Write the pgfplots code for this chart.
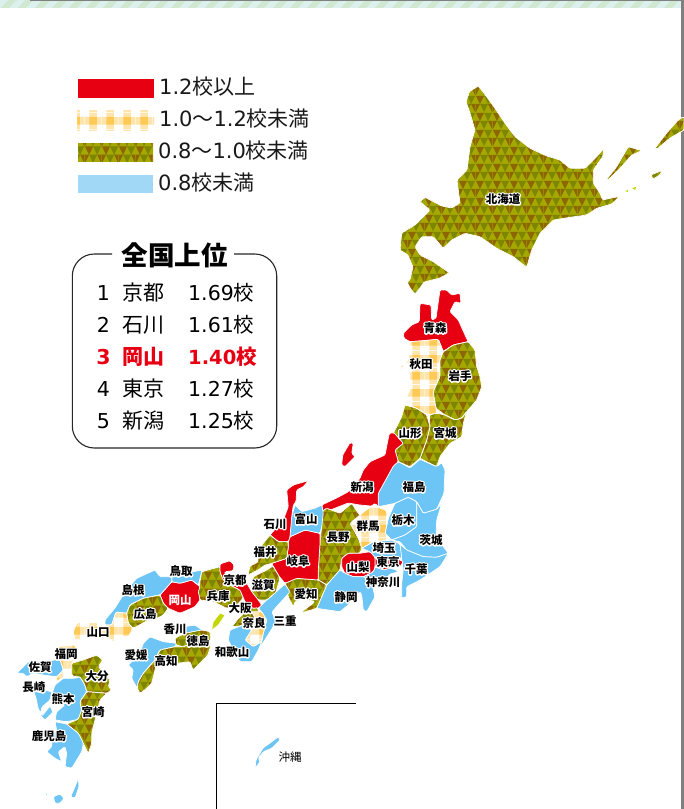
\documentclass[border=0pt]{standalone}
\usepackage{pgfplots}
\pgfplotsset{compat=1.18}
\usepackage{fontspec}
\usetikzlibrary{patterns}
\setmainfont{Noto Sans CJK JP}
\newfontfamily\djv{DejaVu Sans}
\definecolor{jr}{HTML}{E60012}
\definecolor{jb}{HTML}{6CC5F4}
\definecolor{lb}{HTML}{A0D8F6}
\definecolor{ol}{HTML}{A4A800}
\definecolor{od}{HTML}{7E8600}
\definecolor{br}{HTML}{8C6600}
\definecolor{cl}{HTML}{FFE4AC}
\definecolor{cd}{HTML}{FFC956}
\definecolor{aw}{HTML}{C4D600}
\definecolor{s1}{HTML}{CFE8CF}
\definecolor{s2}{HTML}{DCF0EE}
\pgfdeclarepatterninherentlycolored{tri}{\pgfqpoint{0pt}{0pt}}{\pgfqpoint{17pt}{17pt}}{\pgfqpoint{17pt}{17pt}}{%
 \pgfsetfillcolor{ol}\pgfpathrectangle{\pgfqpoint{0pt}{0pt}}{\pgfqpoint{17pt}{17pt}}\pgfusepath{fill}%
 \pgfsetfillcolor{br}%
 \pgfpathmoveto{\pgfqpoint{0pt}{17pt}}\pgfpathlineto{\pgfqpoint{8.5pt}{17pt}}\pgfpathlineto{\pgfqpoint{4.25pt}{8.5pt}}\pgfpathclose
 \pgfpathmoveto{\pgfqpoint{12.75pt}{8.5pt}}\pgfpathlineto{\pgfqpoint{17pt}{8.5pt}}\pgfpathlineto{\pgfqpoint{17pt}{0pt}}\pgfpathclose
 \pgfpathmoveto{\pgfqpoint{0pt}{8.5pt}}\pgfpathlineto{\pgfqpoint{4.25pt}{8.5pt}}\pgfpathlineto{\pgfqpoint{0pt}{0pt}}\pgfpathclose
 \pgfusepath{fill}%
 \pgfsetfillcolor{od}%
 \pgfpathmoveto{\pgfqpoint{8.5pt}{17pt}}\pgfpathlineto{\pgfqpoint{17pt}{17pt}}\pgfpathlineto{\pgfqpoint{12.75pt}{8.5pt}}\pgfpathclose
 \pgfpathmoveto{\pgfqpoint{4.25pt}{8.5pt}}\pgfpathlineto{\pgfqpoint{12.75pt}{8.5pt}}\pgfpathlineto{\pgfqpoint{8.5pt}{0pt}}\pgfpathclose
 \pgfusepath{fill}%
}
\pgfdeclarepatterninherentlycolored{chk}{\pgfqpoint{0pt}{0pt}}{\pgfqpoint{17pt}{17pt}}{\pgfqpoint{17pt}{17pt}}{%
 \pgfsetfillcolor{white}\pgfpathrectangle{\pgfqpoint{0pt}{0pt}}{\pgfqpoint{17pt}{17pt}}\pgfusepath{fill}%
 \pgfsetfillcolor{cl}%
 \pgfpathrectangle{\pgfqpoint{4.5pt}{0pt}}{\pgfqpoint{8pt}{17pt}}%
 \pgfpathrectangle{\pgfqpoint{0pt}{4.5pt}}{\pgfqpoint{17pt}{8pt}}\pgfusepath{fill}%
 \pgfsetfillcolor{cd}%
 \pgfpathrectangle{\pgfqpoint{4.5pt}{4.5pt}}{\pgfqpoint{8pt}{8pt}}\pgfusepath{fill}%
}
\pgfdeclarepatterninherentlycolored{stp}{\pgfqpoint{0pt}{0pt}}{\pgfqpoint{17pt}{17pt}}{\pgfqpoint{17pt}{17pt}}{%
 \pgfsetfillcolor{s2}\pgfpathrectangle{\pgfqpoint{0pt}{0pt}}{\pgfqpoint{17pt}{17pt}}\pgfusepath{fill}%
 \pgfsetfillcolor{s1}%
 \pgfpathmoveto{\pgfqpoint{0pt}{0pt}}\pgfpathlineto{\pgfqpoint{8.5pt}{0pt}}\pgfpathlineto{\pgfqpoint{17pt}{8.5pt}}\pgfpathlineto{\pgfqpoint{17pt}{17pt}}\pgfpathclose
 \pgfpathmoveto{\pgfqpoint{0pt}{8.5pt}}\pgfpathlineto{\pgfqpoint{8.5pt}{17pt}}\pgfpathlineto{\pgfqpoint{0pt}{17pt}}\pgfpathclose
 \pgfusepath{fill}%
}
\pgfplotsset{
 R/.style={fill=jr,draw=white,line width=.7pt,rounded corners=1.2pt},
 B/.style={fill=jb,draw=white,line width=.7pt,rounded corners=1.2pt},
 T/.style={preaction={fill=ol},pattern=tri,draw=white,line width=.7pt,rounded corners=1.2pt},
 C/.style={pattern=chk,draw=white,line width=.7pt,rounded corners=1.2pt},
}
\newcommand\pref[2]{\addplot[#1] coordinates {#2} -- cycle;}
\newcommand\labfont{\fontsize{11.5}{12}\selectfont\bfseries}
\newcommand\lab[3]{%
 \node[inner sep=0pt,text=white,font=\labfont] at (axis cs:#1,#2) {\special{pdf:literal 2.6 w 1 1 1 RG 1 Tr 1 j}#3\special{pdf:literal 0 Tr}};
 \node[inner sep=0pt,text=black,font=\labfont] at (axis cs:#1,#2) {#3};}
\newcommand\leg[3]{\node[anchor=west,inner sep=0pt,font=\fontsize{21}{22}\selectfont,text=black!90] at (axis cs:#1,#2) {#3};}
\newcommand\rank[5]{%
 \node[inner sep=0pt,font=\fontsize{20.5}{21}\selectfont#5] at (axis cs:103.5,#4) {{\djv #1}};
 \node[anchor=west,inner sep=0pt,font=\fontsize{21}{22}\selectfont#5] at (axis cs:122.5,#4) {#2};
 \node[anchor=west,inner sep=0pt,font=\fontsize{20.5}{21}\selectfont#5] at (axis cs:188,#4) {#3};}
\begin{document}
\begin{tikzpicture}
\begin{axis}[hide axis,scale only axis,width=684pt,height=809pt,xmin=0,xmax=684,ymin=0,ymax=809,y dir=reverse,clip=true]
% page furniture
\addplot[pattern=stp,draw=none] coordinates {(0,0)(684,0)(684,7.5)(0,7.5)} -- cycle;
\addplot[draw=gray,line width=1pt] coordinates {(30,.5)(684,.5)};
\addplot[draw=gray,line width=3pt] coordinates {(682.5,0)(682.5,809)};
% legend swatches
\addplot[fill=jr,draw=none] coordinates {(78,79)(154,79)(154,98)(78,98)} -- cycle;
\addplot[pattern=chk,draw=none] coordinates {(77,110)(154,110)(154,130)(77,130)} -- cycle;
\addplot[preaction={fill=ol},pattern=tri,draw=none] coordinates {(78,143)(153,143)(153,161)(78,161)} -- cycle;
\addplot[fill=lb,draw=none] coordinates {(78,175)(153,175)(153,193)(78,193)} -- cycle;
% ranking box
\addplot[draw=black!85,line width=1.1pt,rounded corners=22pt] coordinates {(112,254)(72.3,254)(72.3,448)(276.7,448)(276.7,254)(234,254)};
% okinawa inset
\addplot[draw=black,line width=.8pt] coordinates {(356,703.7)(216,703.7)(216,809)};
% Hokkaido
\pref{T}{(478.3,86)(486.7,96.7)(495,108.3)(505,123.3)(515,136.7)(530,148.3)(546.7,156)(560,160)(570,168.3)(585,168.3)(596.7,156.7)(604,148.3)(602.7,156.7)(593.3,170)(593.3,183.3)(600,193.3)(602.7,200)(620,196)(611.7,204)(596.7,208.3)(586.7,215)(570,217.3)(553.3,220)(540,233.3)(531.7,250)(526.7,267.3)(513.3,256.7)(496.7,248.3)(480,236.7)(465,233.3)(451.7,240)(443.3,248.3)(433.3,236.7)(421.7,236.7)(415,246.7)(420,255)(433.3,261.7)(449.3,272.7)(440,278)(424,282)(420,288)(415,294)(410,288)(407,282)(410,280)(413,267)(408,255)(400,250)(401.7,233)(415,225)(420,220)(430,210)(420,201.7)(425,197.3)(441.7,206)(451.7,208)(460,203)(457,180)(467,170)(470,146.7)(475,130)(470,113)(466,101.7)(469.3,91.7)}
\pref{T}{(606,180)(616.7,166.7)(628.3,146.7)(641.7,150.7)(631.7,155)(620,168.3)(608,180)}
\pref{T}{(655,148.3)(665,135)(678.3,120)(684,116.7)(684,130)(670,138)(656.7,149.3)}
\pref{T}{(650.7,175)(661.7,170.7)(660,175)(653,179)}
\addplot[fill=aw,draw=none] coordinates {(625,191)(628,190)(628,192)} -- cycle;
\addplot[fill=aw,draw=none] coordinates {(632,188)(636,187)(635,190)} -- cycle;
% Tohoku
\pref{R}{(403.3,333.3)(411.7,325)(419.3,321.7)(420,303.3)(431,305)(431.7,320)(436,318.3)(440,290)(446.7,290)(451.7,295)(460,293.3)(461,303.3)(455,301.7)(450,311.7)(458.3,320)(465,335)(468.3,341.7)(453.3,345)(443.3,351.7)(438.3,339.3)(423.3,340.7)(410,341.7)(404,338.3)}
\pref{C}{(410,341.7)(423.3,340.7)(438.3,339.3)(443.3,351.7)(440,360)(440,376.7)(433.3,391.7)(436,408.3)(436.7,413.3)(426.7,415)(416.7,408.3)(405,403.3)(406.7,396.7)(410,390)(410,368.3)(398.3,368.3)(408.3,360)(410,350)}
\pref{T}{(443.3,351.7)(453.3,345)(468.3,341.7)(475,350)(476.7,366.7)(480,376.7)(481.7,386.7)(476.7,400)(466.7,411.7)(461.7,418.3)(455,420)(445,415)(436,408.3)(433.3,391.7)(440,376.7)(440,360)}
\pref{T}{(429.3,415)(436.7,413.3)(445,415)(455,420)(461.7,418.3)(466.7,411.7)(463.3,423.3)(461.7,436.7)(450,443.3)(445,450)(440,456.7)(436.7,466.7)(426.7,461.7)(420,458.3)(426.7,440)(430,426.7)}
\pref{T}{(405,405)(416.7,408.3)(426.7,415)(430,426.7)(426.7,440)(420,458.3)(410,466.7)(398.3,461.7)(395,450)(403.3,443.3)(393.3,433.3)(401.7,416.7)}
\pref{B}{(378.3,506.7)(395,503.3)(408.3,497.3)(416.7,501.7)(423.3,513.3)(436.7,509.3)(444,493.3)(445,470)(441.7,462.7)(436.7,466.7)(420,459.3)(410,468)(398.3,461.7)(393.3,466)(378.3,493.3)}
% Kanto
\pref{R}{(321.7,505)(336.7,498)(348.3,491.7)(360,478.3)(363.3,470)(370,461.7)(385,455)(389.3,433.3)(394,432.7)(403.3,443.3)(395,450)(398.3,461.7)(393.3,466)(378.3,493.3)(378.3,506.7)(360,505)(348.3,503)(323.3,512.7)}
\pref{R}{(350,442.7)(353.3,443.3)(351.7,453.3)(355,456.7)(345,466.7)(341.7,465)(342.7,455)}
\pref{B}{(395,503.3)(408.3,497.3)(416.7,501.7)(416.7,526.7)(405,535)(391.7,540)(385,533.3)(388.3,518.3)}
\pref{B}{(416.7,501.7)(423.3,513.3)(436.7,509.3)(441.7,503.3)(436.7,520)(436,536.7)(448.3,553.3)(436.7,557.3)(423.3,556.7)(406.7,550)(400,541.7)(391.7,540)(405,535)(416.7,526.7)}
\pref{B}{(400,544)(406.7,550)(423.3,556.7)(436.7,557.3)(448.3,553.3)(440,566.7)(420,580)(406.7,586.7)(406.7,596.7)(401.7,598.3)(401.7,583.3)(403.3,570)(401.7,560)}
\pref{B}{(361.7,548.3)(373.3,541.7)(391.7,540)(400,544)(401.7,558.3)(396.7,558.3)(375,557.3)(370,551.7)}
\pref{C}{(360,515)(375,503.3)(380,508.3)(386,510)(388.3,518.3)(385,533.3)(391.7,540)(373.3,541.7)(361.7,548.3)(358.3,538.3)(350,523.3)}
\pref{R}{(375,557.3)(396.7,558.3)(403.3,561.7)(400,566.7)(390,568.3)(383.3,570)(375,566.7)}
\pref{B}{(375,566.7)(383.3,570)(390,568.3)(396.7,570)(398,572)(390,574)(385,580)(375,582)(363.3,576.7)(373.3,571.7)}
% Chubu
\pref{T}{(321.7,511.7)(326.7,508.3)(340,513.3)(351.7,503.3)(358.3,513.3)(360,515)(350,523.3)(358.3,538.3)(361.7,548.3)(360,553.3)(348.3,553.3)(341.7,558.3)(340,570)(326.7,585)(318.3,580)(318.3,570)(320,543.3)(321.7,526.7)}
\pref{R}{(341.7,558.3)(348.3,553.3)(360,553.3)(370,551.7)(375,557.3)(375,566.7)(373.3,571.7)(363.3,576.7)(353.3,576.7)(345,573.3)(341.7,566.7)}
\pref{B}{(363.3,576.7)(375,582)(373.3,590)(375,596.7)(366.7,611.7)(363.3,610)(361.7,595)(360,591.7)(350,603.3)(340,611.7)(316.7,608.3)(326.7,585)(340,570)(345,573.3)(353.3,576.7)}
\pref{T}{(285,583.3)(296.7,578.3)(318.3,580)(326.7,585)(316.7,608.3)(300,613.3)(315,601.7)(303.3,598.3)(295,601.7)(293.3,606.7)(288.3,596.7)}
\pref{R}{(290,536.7)(305,530)(320,533.3)(320,543.3)(318.3,570)(318.3,580)(296.7,578.3)(285,583.3)(276.7,573.3)(271.7,563.3)(286.7,558.3)(288.3,546.7)(288.3,541.7)}
\pref{B}{(295,505)(301.7,511.7)(315,508.3)(321.7,505)(323.3,512.7)(321.7,526.7)(320,533.3)(305,530)(290,536.7)(291.7,516.7)}
\pref{R}{(308.3,480.7)(303.3,486.7)(296.7,490)(296,501.7)(293.3,505)(291.7,516.7)(290,536.7)(288.3,541.7)(278.3,541.7)(270,535)(283.3,520)(288.3,506.7)(286.7,490)(293.3,485)}
\pref{T}{(270,535)(278.3,541.7)(288.3,541.7)(288.3,546.7)(286.7,558.3)(271.7,563.3)(265,565)(258,570)(248,575)(250,566)(258,562)(258,550)}
% Kinki
\pref{B}{(266.7,600)(276,592)(285,584)(290,592)(278,605)(272,612)(276,622)(268,635)(258.3,650)(261.7,641.7)(263.3,633.3)(266.7,620)(261.7,611.7)(258.3,608.3)(261.7,605)}
\pref{T}{(253.3,576.7)(266.7,570)(273,566)(280,578)(276,592)(266.7,600)(258.3,600)(251.7,592)(251.7,585)}
\pref{T}{(201.7,571.7)(220,566.7)(220,571.7)(223.3,580)(230,585)(240,590)(243.3,598.3)(236.7,605)(226.7,608.3)(213.3,601.7)(200,600)(198.3,591.7)}
\pref{R}{(220,564)(230,560.7)(234,565)(233.3,570.7)(225,571.7)(225,574)(236.7,575)(245,580)(251.7,591.7)(258.3,600)(261.7,605)(258.3,608.3)(251.7,608.3)(245,601.7)(240,590)(230,585)(223.3,580)(220,571.7)}
\pref{T}{(245,601.7)(251.7,608.3)(258,608)(258,616)(240,626)(232,626.7)(237,620)(245,612)}
\pref{C}{(251.7,611.7)(261.7,611.7)(266.7,620)(263.3,633.3)(261.7,641.7)(253.3,646.7)(245,640)(251.7,630)(255,618.3)}
\pref{B}{(230,630)(243.3,625)(251.7,630)(245,640)(253.3,646.7)(261.7,641.7)(258.3,650)(251.7,661.7)(240,661.7)(235,653.3)(228.3,640)}
\addplot[fill=aw,draw=white,line width=.5pt] coordinates {(220,613.3)(225,615)(218.3,625)(211.7,630)(213.3,621.7)} -- cycle;
% Chugoku
\pref{R}{(160,595)(171.7,581.7)(180,583.3)(191.7,580)(200,586.7)(198.3,591.7)(200,600)(195,606.7)(180,613.3)(168.3,608.3)(163.3,603.3)}
\pref{B}{(171.7,576.7)(193.3,571.7)(201.7,570)(201.7,571.7)(198.3,585)(191.7,580)(180,583.3)(171.7,581.7)}
\pref{B}{(136.7,578.3)(155,570)(160,576.7)(171.7,576.7)(171.7,581.7)(160,595)(143.3,598.3)(130,605)(126.7,613.3)(116,612)(111.7,625)(105,625)(105,620)(115,608)(125,592)}
\pref{T}{(130,605)(143.3,598.3)(160,595)(163.3,603.3)(168.3,608.3)(163.3,615)(156.7,618.3)(148.3,620)(133.3,628.3)(128.3,623.3)(126.7,613.3)}
\pref{C}{(76.7,623.3)(83.3,621.7)(98,623)(105,625)(111.7,625)(116,612)(126.7,613.3)(128.3,623.3)(133.3,628.3)(128,637)(120,636)(116.7,643.3)(108.3,638.3)(96.7,636.7)(83.3,640)(75,640)(73.3,631.7)}
% Shikoku
\pref{B}{(143.3,643.3)(150,636.7)(163.3,641.7)(176.7,643.3)(175,646.7)(160,650)(155,660)(143.3,673.3)(138.3,681.7)(137.3,688.3)(131.7,678.3)(133.3,670)(128.3,665)(140,653.3)}
\pref{T}{(160,650)(175,646.7)(183.3,646.7)(186.7,645)(200,646)(210.7,645)(208,655)(195,668)(193,670)(190,661.7)(176.7,663.3)(165,661.7)(156.7,663.3)(151.7,683.3)(146.7,688.3)(140,693.3)(137.3,688.3)(138.3,681.7)(143.3,673.3)(155,660)}
\pref{B}{(183,627)(195,625)(202,630)(205,632)(190,636)(186,633)}
\pref{T}{(175,638.3)(185,633.3)(201.7,630)(210,631.7)(210.7,645)(200,646)(186.7,645)(183.3,646.7)(176,645)}
% Kyushu
\pref{C}{(58.3,646.7)(75,645)(76.7,653.3)(71.7,663.3)(71.7,675)(63.3,676.7)(56.7,681.7)(56.7,676.7)(63.3,670)(60,660)(55,660)}
\pref{B}{(16.7,673)(20,670)(28.3,661.7)(41.7,661.7)(55,660)(60,660)(63.3,670)(56.7,676.7)(43.3,675)(33.3,673.3)(26.7,676.7)(23.3,673.3)}
\pref{B}{(33,690)(40,693)(45,690)(52,692)(50,700)(42,707)(40,715)(45,720)(53,712)(50,706)(42,716)(38,708)(36,698)}
\pref{B}{(55,685)(63.3,678.3)(75,678.3)(80,676.7)(85,685)(86.7,691.7)(80,701.7)(81.7,710)(78.3,719.3)(66.7,721.7)(55,720)(56.7,711.7)(65,705)(53.3,703.3)(51.7,695)}
\pref{T}{(71.7,663.3)(83.3,660)(96.7,655)(102.7,660)(98.3,666.7)(110,680)(108.3,686.7)(111.7,690)(106.7,693.3)(86.7,691.7)(85,685)(80,676.7)(75,676.7)(71.7,675)}
\pref{T}{(86.7,691.7)(106.7,693.3)(100,700)(95,720)(91.7,733.3)(91.7,743.3)(88.3,753.3)(83.3,743.3)(78.3,733.3)(66.7,724)(78.3,719.3)(81.7,710)(80,701.7)}
\pref{B}{(55,721.7)(66.7,724)(78.3,733.3)(83.3,743.3)(81.7,751.7)(71.7,768.3)(65,766.7)(66.7,753.3)(65,746.7)(58.3,751.7)(61.7,761.7)(55,758.3)(46.7,751.7)(51.7,746.7)(51.7,736.7)(56.7,730)}
\pref{B}{(78.3,778.3)(79,786.7)(75,798.3)(70.7,796.7)(75,786.7)}
\pref{B}{(53.3,796.7)(60,794)(64,798.3)(60,803.3)(55,803.3)}
\pref{B}{(45,793.3)(48.3,794)(48,796)(45,795)}
% Okinawa
\pref{B}{(278.3,736.7)(280,740)(271.7,748.3)(263.3,751.7)(258.3,758.3)(260,761.7)(255,768.3)(256,760)(263,748)(270,743)}
\pref{B}{(259.3,741)(262.7,742)(261,743)}
% legend text
\leg{159}{87}{{\djv 1.2}校以上}
\leg{159}{119}{{\djv 1.0}～{\djv 1.2}校未満}
\leg{158}{151}{{\djv 0.8}～{\djv 1.0}校未満}
\leg{158}{183}{{\djv 0.8}校未満}
% ranking text
\node[inner sep=0pt,font=\fontsize{26.5}{27}\selectfont\bfseries] at (axis cs:174.5,255) {全国上位};
\rank{1}{京都}{{\djv 1.69}校}{293}{}
\rank{2}{石川}{{\djv 1.61}校}{325}{}
\rank{3}{岡山}{{\djv\fontsize{19.5}{21}\selectfont 1.40}校}{357}{\bfseries\color{jr}}
\rank{4}{東京}{{\djv 1.27}校}{389}{}
\rank{5}{新潟}{{\djv 1.25}校}{421}{}
% prefecture labels
\lab{503}{199}{北海道}\lab{435}{328}{青森}\lab{421}{364}{秋田}\lab{460}{376}{岩手}
\lab{410}{433}{山形}\lab{445}{433}{宮城}\lab{362}{487}{新潟}\lab{414}{487}{福島}
\lab{403}{520}{栃木}\lab{431}{540}{茨城}\lab{368}{526}{群馬}\lab{338}{537}{長野}
\lab{306}{519}{富山}\lab{275}{524}{石川}\lab{265}{552}{福井}\lab{384}{548}{埼玉}
\lab{298}{561}{岐阜}\lab{358}{567}{山梨}\lab{388}{562}{東京}\lab{416}{569}{千葉}
\lab{383}{582}{神奈川}\lab{346}{597}{静岡}\lab{306}{594}{愛知}\lab{263}{585}{滋賀}
\lab{235}{580}{京都}\lab{181}{571}{鳥取}\lab{133}{590}{島根}
\lab{218}{596}{兵庫}\lab{145}{614}{広島}\lab{240}{608}{大阪}\lab{254}{623}{奈良}
\lab{285}{621}{三重}\lab{175}{629}{香川}\lab{98}{632}{山口}\lab{198}{641}{徳島}
\lab{232}{652}{和歌山}\lab{166}{661}{高知}\lab{136}{655}{愛媛}\lab{66}{654}{福岡}
\lab{40}{667}{佐賀}\lab{97}{676}{大分}\lab{34}{687}{長崎}\lab{63}{699}{熊本}
\lab{93}{712}{宮崎}\lab{49}{736}{鹿児島}
\node[inner sep=0pt,text=white,font=\labfont] at (axis cs:180,600) {岡山};
\node[inner sep=0pt,text=black,font=\fontsize{11.5}{12}\selectfont] at (axis cs:290,757) {沖縄};
\end{axis}
\end{tikzpicture}
\end{document}
